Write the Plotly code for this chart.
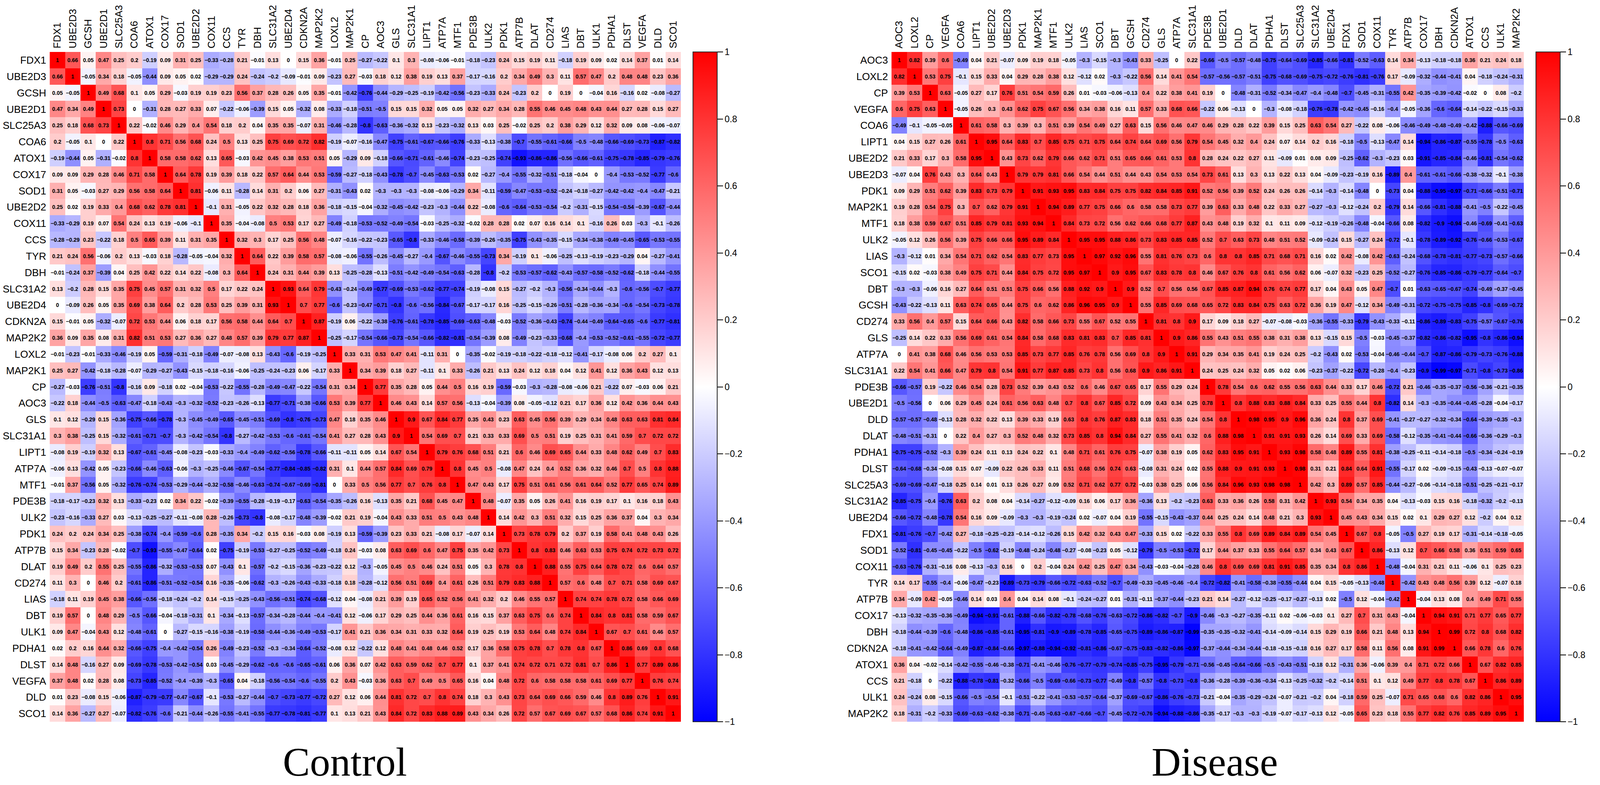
import plotly.graph_objects as go

W, H = 4347, 2010

ctrl_genes = ["FDX1", "UBE2D3", "GCSH", "UBE2D1", "SLC25A3", "COA6", "ATOX1", "COX17", "SOD1",
              "UBE2D2", "COX11", "CCS", "TYR", "DBH", "SLC31A2", "UBE2D4", "CDKN2A", "MAP2K2",
              "LOXL2", "MAP2K1", "CP", "AOC3", "GLS", "SLC31A1", "LIPT1", "ATP7A", "MTF1", "PDE3B",
              "ULK2", "PDK1", "ATP7B", "DLAT", "CD274", "LIAS", "DBT", "ULK1", "PDHA1", "DLST",
              "VEGFA", "DLD", "SCO1"]

dis_genes = ["AOC3", "LOXL2", "CP", "VEGFA", "COA6", "LIPT1", "UBE2D2", "UBE2D3", "PDK1", "MAP2K1",
             "MTF1", "ULK2", "LIAS", "SCO1", "DBT", "GCSH", "CD274", "GLS", "ATP7A", "SLC31A1",
             "PDE3B", "UBE2D1", "DLD", "DLAT", "PDHA1", "DLST", "SLC25A3", "SLC31A2", "UBE2D4",
             "FDX1", "SOD1", "COX11", "TYR", "ATP7B", "COX17", "DBH", "CDKN2A", "ATOX1", "CCS",
             "ULK1", "MAP2K2"]

# lower triangle of each correlation matrix, row by row (diagonal is 1)
ctrl_lower = [
    [],
    [0.66],
    [0.05, -0.05],
    [0.47, 0.34, 0.49],
    [0.25, 0.18, 0.68, 0.73],
    [0.2, -0.05, 0.1, 0, 0.22],
    [-0.19, -0.44, 0.05, -0.31, -0.02, 0.8],
    [0.09, 0.09, 0.29, 0.28, 0.46, 0.71, 0.58],
    [0.31, 0.05, -0.03, 0.27, 0.29, 0.56, 0.58, 0.64],
    [0.25, 0.02, 0.19, 0.33, 0.4, 0.68, 0.62, 0.78, 0.81],
    [-0.33, -0.29, 0.19, 0.07, 0.54, 0.24, 0.13, 0.19, -0.06, -0.1],
    [-0.28, -0.29, 0.23, -0.22, 0.18, 0.5, 0.65, 0.39, 0.11, 0.31, 0.35],
    [0.21, 0.24, 0.56, -0.06, 0.2, 0.13, -0.03, 0.18, -0.28, -0.05, -0.04, 0.32],
    [-0.01, -0.24, 0.37, -0.39, 0.04, 0.25, 0.42, 0.22, 0.14, 0.22, -0.08, 0.3, 0.64],
    [0.13, -0.2, 0.28, 0.15, 0.35, 0.75, 0.45, 0.57, 0.31, 0.32, 0.5, 0.17, 0.22, 0.24],
    [0, -0.09, 0.26, 0.05, 0.35, 0.69, 0.38, 0.64, 0.2, 0.28, 0.53, 0.25, 0.39, 0.31, 0.93],
    [0.15, -0.01, 0.05, -0.32, -0.07, 0.72, 0.53, 0.44, 0.06, 0.18, 0.17, 0.56, 0.58, 0.44, 0.64, 0.7],
    [0.36, 0.09, 0.35, 0.08, 0.31, 0.82, 0.51, 0.53, 0.27, 0.36, 0.27, 0.48, 0.57, 0.39, 0.79, 0.77,
     0.87],
    [-0.01, -0.23, -0.01, -0.33, -0.46, -0.19, 0.05, -0.59, -0.31, -0.18, -0.49, -0.07, -0.08, 0.13,
     -0.43, -0.6, -0.19, -0.25],
    [0.25, 0.27, -0.42, -0.18, -0.28, -0.07, -0.29, -0.27, -0.43, -0.15, -0.18, -0.16, -0.06, -0.25,
     -0.24, -0.23, 0.06, -0.17, 0.33],
    [-0.27, -0.03, -0.76, -0.51, -0.8, -0.16, 0.09, -0.18, 0.02, -0.04, -0.53, -0.22, -0.55, -0.28,
     -0.49, -0.47, -0.22, -0.54, 0.31, 0.34],
    [-0.22, 0.18, -0.44, -0.5, -0.63, -0.47, -0.18, -0.43, -0.3, -0.32, -0.52, -0.23, -0.26, -0.13,
     -0.77, -0.71, -0.38, -0.66, 0.53, 0.39, 0.77],
    [0.1, 0.12, -0.29, 0.15, -0.36, -0.75, -0.66, -0.78, -0.3, -0.45, -0.49, -0.65, -0.45, -0.51,
     -0.69, -0.8, -0.76, -0.73, 0.47, 0.18, 0.35,
     0.46],
    [0.3, 0.38, -0.25, 0.15, -0.32, -0.61, -0.71, -0.7, -0.3, -0.42, -0.54, -0.8, -0.27, -0.42,
     -0.53, -0.6, -0.61, -0.54, 0.41, 0.27, 0.28,
     0.43, 0.9],
    [-0.08, 0.19, -0.19, 0.32, 0.13, -0.67, -0.61, -0.45, -0.08, -0.23, -0.03, -0.33, -0.4, -0.49,
     -0.62, -0.56, -0.78, -0.66, -0.11, -0.11, 0.05,
     0.14, 0.67, 0.54],
    [-0.06, 0.13, -0.42, 0.05, -0.23, -0.66, -0.46, -0.63, -0.06, -0.3, -0.25, -0.46, -0.67, -0.54,
     -0.77, -0.84, -0.85, -0.82, 0.31, 0.1, 0.44,
     0.57, 0.84, 0.69, 0.79],
    [-0.01, 0.37, -0.56, 0.05, -0.32, -0.76, -0.74, -0.53, -0.29, -0.44, -0.32, -0.58, -0.46, -0.63,
     -0.74, -0.67, -0.69, -0.81, 0, 0.33, 0.5,
     0.56, 0.77, 0.7, 0.76, 0.8],
    [-0.18, -0.17, -0.23, 0.32, 0.13, -0.33, -0.23, 0.02, 0.34, 0.22, -0.02, -0.39, -0.55, -0.28,
     -0.19, -0.17, -0.63, -0.54, -0.35, -0.26, 0.16,
     -0.13, 0.35, 0.21, 0.68, 0.45, 0.47],
    [-0.23, -0.16, -0.33, 0.27, 0.03, -0.13, -0.25, -0.27, -0.11, -0.08, 0.28, -0.26, -0.73, -0.8,
     -0.08, -0.17, -0.48, -0.39, -0.02, 0.21, 0.19,
     -0.04, 0.43, 0.33, 0.51, 0.5, 0.43, 0.48],
    [0.24, 0.2, 0.24, 0.34, 0.25, -0.38, -0.74, -0.4, -0.59, -0.6, 0.28, -0.35, 0.34, -0.2,
     0.15, 0.16, -0.03, 0.08, -0.19, 0.13, -0.59,
     -0.39, 0.23, 0.33, 0.21, -0.08, 0.17, -0.07, 0.14],
    [0.15, 0.34, -0.23, 0.28, -0.02, -0.7, -0.93, -0.55, -0.47, -0.64, 0.02, -0.75, -0.19, -0.53,
     -0.27, -0.25, -0.52, -0.49, -0.18, 0.24, -0.03,
     0.08, 0.63, 0.69, 0.6, 0.47, 0.75, 0.35, 0.42, 0.73],
    [0.19, 0.49, 0.2, 0.55, 0.25, -0.55, -0.86, -0.32, -0.53, -0.53, 0.07, -0.43, 0.1, -0.57,
     -0.2, -0.15, -0.36, -0.23, -0.22, 0.12, -0.3,
     -0.05, 0.45, 0.5, 0.46, 0.24, 0.51, 0.05, 0.3, 0.78, 0.8],
    [0.11, 0.3, 0, 0.46, 0.2, -0.61, -0.86, -0.51, -0.52, -0.54, 0.16, -0.35, -0.06, -0.62,
     -0.3, -0.26, -0.43, -0.33, -0.18, 0.18, -0.28,
     -0.12, 0.56, 0.51, 0.69, 0.4, 0.61, 0.26, 0.51, 0.79, 0.83, 0.88],
    [-0.18, 0.11, 0.19, 0.45, 0.38, -0.66, -0.56, -0.18, -0.24, -0.2, 0.14, -0.15, -0.25, -0.43,
     -0.56, -0.51, -0.74, -0.68, -0.12, 0.04, -0.08,
     0.21, 0.39, 0.19, 0.65, 0.52, 0.56, 0.41, 0.32, 0.2, 0.46, 0.55, 0.57],
    [0.19, 0.57, 0, 0.48, 0.29, -0.5, -0.66, -0.04, -0.18, -0.31, 0.1, -0.34, -0.13, -0.57,
     -0.34, -0.28, -0.44, -0.4, -0.41, 0.12, -0.06,
     0.17, 0.29, 0.25, 0.44, 0.36, 0.61, 0.16, 0.15, 0.37, 0.63, 0.75, 0.6, 0.74],
    [0.09, 0.47, -0.04, 0.43, 0.12, -0.48, -0.61, 0, -0.27, -0.15, -0.16, -0.38, -0.19, -0.58,
     -0.44, -0.36, -0.49, -0.53, -0.17, 0.41, 0.21,
     0.36, 0.34, 0.31, 0.33, 0.32, 0.64, 0.19, 0.25, 0.19, 0.53, 0.64, 0.48, 0.74, 0.84],
    [0.02, 0.2, 0.16, 0.44, 0.32, -0.66, -0.75, -0.4, -0.42, -0.54, 0.26, -0.49, -0.23, -0.52,
     -0.3, -0.34, -0.64, -0.52, -0.08, 0.12, -0.22,
     0.12, 0.48, 0.41, 0.48, 0.46, 0.52, 0.17, 0.36, 0.58, 0.75, 0.78, 0.7, 0.78, 0.8, 0.67],
    [0.14, 0.48, -0.16, 0.27, 0.09, -0.69, -0.78, -0.53, -0.42, -0.54, 0.03, -0.45, -0.29, -0.62,
     -0.6, -0.6, -0.65, -0.61, 0.06, 0.36, 0.07,
     0.42, 0.63, 0.59, 0.62, 0.7, 0.77, 0.1, 0.37, 0.41, 0.74, 0.72, 0.71, 0.72, 0.81, 0.7, 0.86],
    [0.37, 0.48, 0.02, 0.28, 0.08, -0.73, -0.85, -0.52, -0.4, -0.39, -0.3, -0.65, 0.04, -0.18,
     -0.56, -0.54, -0.6, -0.55, 0.2, 0.43, -0.03,
     0.36, 0.63, 0.7, 0.49, 0.5, 0.65, 0.16, 0.04, 0.48, 0.72, 0.6, 0.58, 0.58, 0.58, 0.61, 0.69,
     0.77],
    [0.01, 0.23, -0.08, 0.15, -0.06, -0.87, -0.79, -0.77, -0.47, -0.67, -0.1, -0.53, -0.27, -0.44,
     -0.7, -0.73, -0.77, -0.72, 0.27, 0.12, 0.06,
     0.44, 0.81, 0.72, 0.7, 0.8, 0.74, 0.18, 0.3, 0.43, 0.73, 0.64, 0.69, 0.66, 0.59, 0.46, 0.8,
     0.89, 0.76],
    [0.14, 0.36, -0.27, 0.27, -0.07, -0.82, -0.76, -0.6, -0.21, -0.44, -0.26, -0.55, -0.41, -0.55,
     -0.77, -0.78, -0.81, -0.77, 0.1, 0.13, 0.21,
     0.43, 0.84, 0.72, 0.83, 0.88, 0.89, 0.43, 0.34, 0.26, 0.72, 0.57, 0.67, 0.69, 0.67, 0.57, 0.68,
     0.86, 0.74, 0.91],
]

dis_lower = [
    [],
    [0.82],
    [0.39, 0.53],
    [0.6, 0.75, 0.63],
    [-0.49, -0.1, -0.05, -0.05],
    [0.04, 0.15, 0.27, 0.26, 0.61],
    [0.21, 0.33, 0.17, 0.3, 0.58, 0.95],
    [-0.07, 0.04, 0.76, 0.43, 0.3, 0.64, 0.43],
    [0.09, 0.29, 0.51, 0.62, 0.39, 0.83, 0.73, 0.79],
    [0.19, 0.28, 0.54, 0.75, 0.3, 0.7, 0.62, 0.79, 0.91],
    [0.18, 0.38, 0.59, 0.67, 0.51, 0.85, 0.79, 0.81, 0.93, 0.94],
    [-0.05, 0.12, 0.26, 0.56, 0.39, 0.75, 0.66, 0.66, 0.95, 0.89, 0.84],
    [-0.3, -0.12, 0.01, 0.34, 0.54, 0.71, 0.62, 0.54, 0.83, 0.77, 0.73, 0.95],
    [-0.15, 0.02, -0.03, 0.38, 0.49, 0.75, 0.71, 0.44, 0.84, 0.75, 0.72, 0.95, 0.97],
    [-0.3, -0.3, -0.06, 0.16, 0.27, 0.64, 0.51, 0.51, 0.75, 0.66, 0.56, 0.88, 0.92, 0.9],
    [-0.43, -0.22, -0.13, 0.11, 0.63, 0.74, 0.65, 0.44, 0.75, 0.6, 0.62, 0.86, 0.96, 0.95, 0.9],
    [0.33, 0.56, 0.4, 0.57, 0.15, 0.64, 0.66, 0.43, 0.82, 0.58, 0.66, 0.73, 0.55, 0.67, 0.52, 0.55],
    [-0.25, 0.14, 0.22, 0.33, 0.56, 0.69, 0.61, 0.54, 0.84, 0.58, 0.68, 0.83, 0.81, 0.83, 0.7, 0.85,
     0.81],
    [0, 0.41, 0.38, 0.68, 0.46, 0.56, 0.53, 0.53, 0.85, 0.73, 0.77, 0.85, 0.76, 0.78, 0.56, 0.69,
     0.8, 0.9],
    [0.22, 0.54, 0.41, 0.66, 0.47, 0.79, 0.8, 0.54, 0.91, 0.77, 0.87, 0.85, 0.73, 0.8, 0.56, 0.68,
     0.9, 0.86, 0.91],
    [-0.66, -0.57, 0.19, -0.22, 0.46, 0.54, 0.28, 0.73, 0.52, 0.39, 0.43, 0.52, 0.6, 0.46, 0.67,
     0.65, 0.17, 0.55, 0.29, 0.24],
    [-0.5, -0.56, 0, 0.06, 0.29, 0.45, 0.24, 0.61, 0.56, 0.63, 0.48, 0.7, 0.8, 0.67, 0.85, 0.72,
     0.09, 0.43, 0.34, 0.25, 0.78],
    [-0.57, -0.57, -0.48, -0.13, 0.28, 0.32, 0.22, 0.13, 0.39, 0.33, 0.19, 0.63, 0.8, 0.76, 0.87,
     0.83, 0.18, 0.51, 0.35, 0.24, 0.54,
     0.8],
    [-0.48, -0.51, -0.31, 0, 0.22, 0.4, 0.27, 0.3, 0.52, 0.48, 0.32, 0.73, 0.85, 0.8, 0.94, 0.84,
     0.27, 0.55, 0.41, 0.32, 0.6,
     0.88, 0.98],
    [-0.75, -0.75, -0.52, -0.3, 0.39, 0.24, 0.11, 0.13, 0.24, 0.22, 0.1, 0.48, 0.71, 0.61, 0.76,
     0.75, -0.07, 0.38, 0.19, 0.05, 0.62,
     0.83, 0.95, 0.91],
    [-0.64, -0.68, -0.34, -0.08, 0.15, 0.07, -0.09, 0.22, 0.26, 0.33, 0.11, 0.51, 0.68, 0.56, 0.74,
     0.63, -0.08, 0.31, 0.24, 0.02, 0.55,
     0.88, 0.9, 0.91, 0.93],
    [-0.69, -0.69, -0.47, -0.18, 0.25, 0.14, 0.01, 0.13, 0.26, 0.27, 0.09, 0.52, 0.71, 0.62, 0.77,
     0.72, -0.03, 0.38, 0.25, 0.06, 0.56,
     0.84, 0.96, 0.93, 0.98, 0.98],
    [-0.85, -0.75, -0.4, -0.76, 0.63, 0.2, 0.08, 0.04, -0.14, -0.27, -0.12, -0.09, 0.16, 0.06, 0.17,
     0.36, -0.36, 0.13, -0.2, -0.23, 0.63,
     0.33, 0.36, 0.26, 0.58, 0.31, 0.42],
    [-0.66, -0.72, -0.48, -0.78, 0.54, 0.16, 0.09, -0.09, -0.3, -0.3, -0.19, -0.24, 0.02, -0.07,
     0.04, 0.19, -0.55, -0.15, -0.43, -0.37, 0.44,
     0.25, 0.24, 0.14, 0.48, 0.21, 0.3, 0.93],
    [-0.81, -0.76, -0.7, -0.42, 0.27, -0.18, -0.25, -0.23, -0.14, -0.12, -0.26, 0.15, 0.42, 0.32,
     0.43, 0.47, -0.33, 0.15, 0.02, -0.22, 0.33,
     0.55, 0.8, 0.69, 0.89, 0.84, 0.89, 0.54, 0.45],
    [-0.52, -0.81, -0.45, -0.45, -0.22, -0.5, -0.62, -0.19, -0.48, -0.24, -0.48, -0.27, -0.08, -0.23,
     0.05, -0.12, -0.79, -0.5, -0.53, -0.72, 0.17,
     0.44, 0.37, 0.33, 0.55, 0.64, 0.57, 0.34, 0.43, 0.67],
    [-0.63, -0.76, -0.31, -0.16, 0.08, -0.13, -0.3, 0.16, 0, 0.2, -0.04, 0.24, 0.42, 0.25, 0.47,
     0.34, -0.43, -0.03, -0.04, -0.28, 0.46,
     0.8, 0.69, 0.69, 0.81, 0.91, 0.85, 0.35, 0.34, 0.8, 0.86],
    [0.14, 0.17, -0.55, -0.4, -0.06, -0.47, -0.23, -0.89, -0.73, -0.79, -0.66, -0.72, -0.63, -0.52,
     -0.7, -0.49, -0.33, -0.45, -0.46, -0.4, -0.72,
     -0.82, -0.41, -0.58, -0.38, -0.55, -0.44, 0.04, 0.15, -0.05, -0.13, -0.48],
    [0.34, -0.09, 0.42, -0.05, -0.46, 0.14, 0.03, 0.4, 0.04, 0.14, 0.08, -0.1, -0.24, -0.27, 0.01,
     -0.31, -0.11, -0.37, -0.44, -0.23, 0.21,
     0.14, -0.27, -0.12, -0.25, -0.17, -0.27, -0.13, 0.02, -0.5, 0.12, -0.04, -0.42],
    [-0.13, -0.32, -0.35, -0.36, -0.49, -0.94, -0.91, -0.61, -0.88, -0.66, -0.82, -0.78, -0.68,
     -0.76, -0.63, -0.72, -0.86, -0.82, -0.7, -0.9, -0.46,
     -0.3, -0.27, -0.35, -0.11, 0.02, -0.06, -0.03, 0.1, 0.27, 0.7, 0.31, 0.43, -0.04],
    [-0.18, -0.44, -0.39, -0.6, -0.48, -0.86, -0.85, -0.61, -0.95, -0.81, -0.9, -0.89, -0.78, -0.85,
     -0.65, -0.75, -0.89, -0.86, -0.87, -0.99, -0.35,
     -0.35, -0.32, -0.41, -0.14, -0.09, -0.14, 0.15, 0.29, 0.19, 0.66, 0.21, 0.48, 0.13, 0.94],
    [-0.18, -0.41, -0.42, -0.64, -0.49, -0.87, -0.84, -0.66, -0.97, -0.88, -0.94, -0.92, -0.81,
     -0.86, -0.67, -0.75, -0.83, -0.82, -0.86, -0.97, -0.37,
     -0.44, -0.34, -0.44, -0.18, -0.15, -0.18, 0.16, 0.27, 0.17, 0.58, 0.11, 0.56, 0.08, 0.91,
     0.99],
    [0.36, 0.04, -0.02, -0.14, -0.42, -0.55, -0.46, -0.38, -0.71, -0.41, -0.46, -0.76, -0.77, -0.79,
     -0.74, -0.85, -0.75, -0.95, -0.79, -0.71, -0.56,
     -0.45, -0.64, -0.66, -0.5, -0.43, -0.51, -0.18, 0.12, -0.31, 0.36, -0.06, 0.39, 0.4, 0.71,
     0.72, 0.66],
    [0.21, -0.18, 0, -0.22, -0.88, -0.78, -0.81, -0.32, -0.66, -0.5, -0.69, -0.66, -0.73, -0.77,
     -0.49, -0.8, -0.57, -0.8, -0.73, -0.8, -0.36,
     -0.28, -0.39, -0.36, -0.34, -0.13, -0.25, -0.32, -0.2, -0.14, 0.51, 0.1, 0.12, 0.49, 0.77,
     0.8, 0.78, 0.67],
    [0.24, -0.24, 0.08, -0.15, -0.66, -0.5, -0.54, -0.1, -0.51, -0.22, -0.41, -0.53, -0.57, -0.64,
     -0.37, -0.69, -0.67, -0.86, -0.76, -0.73, -0.21,
     -0.04, -0.35, -0.29, -0.24, -0.07, -0.21, -0.2, 0.04, -0.18, 0.59, 0.25, -0.07, 0.71, 0.65,
     0.68, 0.6, 0.82, 0.86],
    [0.18, -0.31, -0.2, -0.33, -0.69, -0.63, -0.62, -0.38, -0.71, -0.45, -0.63, -0.67, -0.66, -0.7,
     -0.45, -0.72, -0.76, -0.94, -0.88, -0.86, -0.35,
     -0.17, -0.3, -0.3, -0.19, -0.07, -0.17, -0.13, 0.12, -0.05, 0.65, 0.23, 0.18, 0.55, 0.77,
     0.82, 0.76, 0.85, 0.89, 0.95],
]

cb_ticks = [-1, -0.8, -0.6, -0.4, -0.2, 0, 0.2, 0.4, 0.6, 0.8, 1]
panel_titles = ["Control", "Disease"]

colorscale = [[0, "#0000FF"], [0.5, "#FFFFFF"], [1, "#FF0000"]]


def full_matrix(lower):
    n = len(lower)
    m = [[1.0] * n for _ in range(n)]
    for i, row in enumerate(lower):
        assert len(row) == i, (i, len(row))
        for j, v in enumerate(row):
            m[i][j] = v
            m[j][i] = v
    return m


def fmt(v):
    return f"{v:g}".replace("-", "\u2212")


# pixel layout of the reference page, used as fractions
top, bottom = 133, 1848
panels = [
    dict(genes=ctrl_genes, lower=ctrl_lower, x0=135, x1=1850, cbx=1883, title_x=937),
    dict(genes=dis_genes, lower=dis_lower, x0=2422, x1=4140, cbx=4173, title_x=3300),
]
label_font = dict(family="Liberation Sans, Arial", size=26, color="black")

fig = go.Figure()
layout = dict(width=W, height=H, margin=dict(l=0, r=0, t=0, b=0, autoexpand=False),
              paper_bgcolor="white", plot_bgcolor="white", showlegend=False)
annotations = []

for k, p in enumerate(panels):
    m = full_matrix(p["lower"])
    text = [[fmt(v) for v in row] for row in m]
    sfx = "" if k == 0 else str(k + 1)
    fig.add_trace(go.Heatmap(
        z=m, x=p["genes"], y=p["genes"], text=text, texttemplate="%{text}",
        textfont=dict(family="Liberation Sans, Arial", size=14, color="black", weight="bold"),
        colorscale=colorscale, zmin=-1, zmax=1, hoverinfo="skip",
        xaxis="x" + sfx, yaxis="y" + sfx,
        colorbar=dict(x=p["cbx"] / W, xanchor="left", y=1 - top / H, yanchor="top",
                      len=(bottom - top) / H, lenmode="fraction",
                      thickness=66 / W, thicknessmode="fraction", xpad=0, ypad=0,
                      outlinewidth=2, outlinecolor="#222222",
                      ticks="outside", ticklen=14, tickwidth=2, tickcolor="black",
                      tickmode="array", tickvals=cb_ticks, ticktext=[fmt(v) for v in cb_ticks],
                      tickfont=dict(family="Liberation Sans, Arial", size=23, color="black")),
    ))
    layout["xaxis" + sfx] = dict(domain=[p["x0"] / W, p["x1"] / W], anchor="y" + sfx, side="top",
                                 tickangle=-90, showgrid=False, zeroline=False, showline=False,
                                 ticks="", ticklabelstandoff=8, automargin=False,
                                 tickfont=label_font)
    layout["yaxis" + sfx] = dict(domain=[1 - bottom / H, 1 - top / H], anchor="x" + sfx,
                                 autorange="reversed", showgrid=False, zeroline=False,
                                 showline=False, ticks="", ticklabelstandoff=8, automargin=False,
                                 tickfont=label_font)
    annotations.append(dict(text=panel_titles[k], x=p["title_x"] / W, y=0, xref="paper", yref="paper",
                            xanchor="center", yanchor="bottom", showarrow=False,
                            font=dict(family="Liberation Serif, Times New Roman", size=104,
                                      color="black")))

layout["annotations"] = annotations
fig.update_layout(**layout)

# fit the figure to the real viewport, in case the window is narrower than the page
fit_js = """
document.body.style.margin = '0';
document.body.style.overflow = 'hidden';
var gd = document.getElementById('{plot_id}');
var w = document.documentElement.clientWidth || window.innerWidth;
var h = document.documentElement.clientHeight || window.innerHeight;
if (w > 0 && h > 0 && (Math.abs(w - %d) > 1 || Math.abs(h - %d) > 1)) {
    Plotly.relayout(gd, {width: w, height: h});
}
""" % (W, H)

fig.write_html("out.html", post_script=fit_js, config={"displayModeBar": False})
